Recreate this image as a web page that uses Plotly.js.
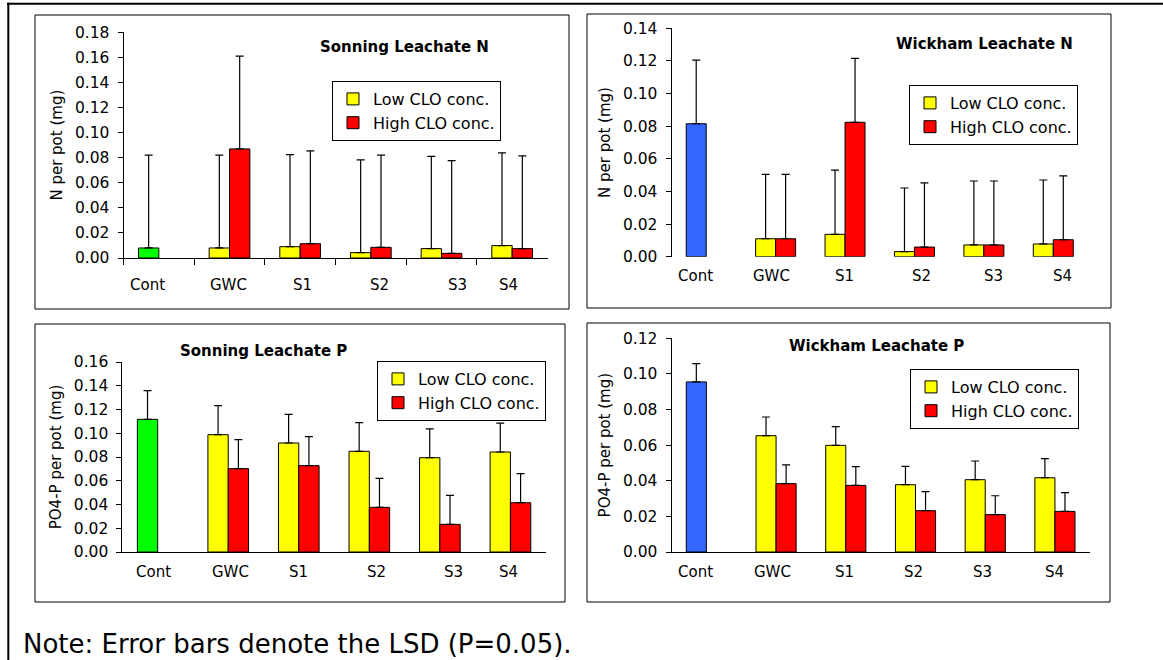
<!DOCTYPE html>
<html><head><meta charset="utf-8">
<script src="https://cdn.plot.ly/plotly-3.0.1.min.js"></script>
<style>html,body{margin:0;padding:0;background:#fff}#chart{width:1163px;height:660px}</style>
</head><body><div id="chart"></div>
<script>
// ---------- DATA ----------
const categories = ['Cont', 'GWC', 'S1', 'S2', 'S3', 'S4'];
const treatments = ['GWC', 'S1', 'S2', 'S3', 'S4'];
const seriesNames = ['Low CLO conc.', 'High CLO conc.'];

// Sonning Leachate N  (N per pot, mg)
const snCont = [0.008];
const snContErr = [0.074];
const snLow = [0.008, 0.009, 0.0043, 0.0075, 0.0099];
const snLowErr = [0.074, 0.0735, 0.074, 0.0735, 0.074];
const snHigh = [0.087, 0.0114, 0.0085, 0.0037, 0.0075];
const snHighErr = [0.074, 0.074, 0.0735, 0.074, 0.074];

// Wickham Leachate N
const wnCont = [0.0815];
const wnContErr = [0.039];
const wnLow = [0.011, 0.0137, 0.0031, 0.0072, 0.0078];
const wnLowErr = [0.0395, 0.0394, 0.039, 0.0392, 0.0392];
const wnHigh = [0.011, 0.0824, 0.0059, 0.0072, 0.0104];
const wnHighErr = [0.0395, 0.0392, 0.0393, 0.0392, 0.0391];

// Sonning Leachate P  (PO4-P per pot, mg)
const spCont = [0.1117];
const spContErr = [0.0242];
const spLow = [0.0988, 0.0918, 0.0848, 0.0794, 0.0842];
const spLowErr = [0.0244, 0.0241, 0.0241, 0.0242, 0.0244];
const spHigh = [0.0702, 0.0727, 0.0376, 0.0233, 0.0415];
const spHighErr = [0.0244, 0.0244, 0.0244, 0.0244, 0.0245];

// Wickham Leachate P
const wpCont = [0.0955];
const wpContErr = [0.0103];
const wpLow = [0.0653, 0.0599, 0.0378, 0.0406, 0.0417];
const wpLowErr = [0.0105, 0.0105, 0.0103, 0.0105, 0.0107];
const wpHigh = [0.0384, 0.0374, 0.0232, 0.021, 0.0228];
const wpHighErr = [0.0105, 0.0105, 0.0107, 0.0106, 0.0105];

const noteText = 'Note: Error bars denote the LSD (P=0.05).';

// ---------- LAYOUT HELPERS ----------
const W = 1163, H = 660;
const fx = p => p / W;
const fy = p => 1 - p / H;
const FONT = 'DejaVu Sans, Liberation Sans, Arial, sans-serif';
const GREEN = '#00ff00', BLUE = '#3366ff', YELLOW = '#ffff00', RED = '#ff0000';

const panels = [
  { title: 'Sonning Leachate N', ytitle: 'N per pot (mg)', cont: snCont, contErr: snContErr,
    low: snLow, lowErr: snLowErr, high: snHigh, highErr: snHighErr, contColor: GREEN,
    yr: [0, 0.18], xd: [123.5, 547.5], yd: [32.3, 258], xline: true, xticks: true,
    titlePos: [404, 47], legPos: [332, 81], labelY: 285, labelShift: [-11, -1, 2, 9, 16, -4],
    frame: [35, 15, 569, 309] },
  { title: 'Wickham Leachate N', ytitle: 'N per pot (mg)', cont: wnCont, contErr: wnContErr,
    low: wnLow, lowErr: wnLowErr, high: wnHigh, highErr: wnHighErr, contColor: BLUE,
    yr: [0, 0.14], xd: [671.5, 1088], yd: [28.3, 256.7], xline: false, xticks: false,
    titlePos: [984, 44], legPos: [909, 85], labelY: 276, labelShift: [-11, -4, -1, 7, 10, 9],
    frame: [587, 14, 1111, 308] },
  { title: 'Sonning Leachate P', ytitle: 'PO4-P per pot (mg)', cont: spCont, contErr: spContErr,
    low: spLow, lowErr: spLowErr, high: spHigh, highErr: spHighErr, contColor: GREEN,
    yr: [0, 0.16], xd: [122.4, 545.7], yd: [362, 552], xline: true, xticks: false,
    titlePos: [263, 351], legPos: [377, 361], labelY: 572, labelShift: [-4, 2, 0, 7, 14, -2],
    frame: [35, 324, 565, 602] },
  { title: 'Wickham Leachate P', ytitle: 'PO4-P per pot (mg)', cont: wpCont, contErr: wpContErr,
    low: wpLow, lowErr: wpLowErr, high: wpHigh, highErr: wpHighErr, contColor: BLUE,
    yr: [0, 0.12], xd: [671.5, 1089.8], yd: [338.3, 552], xline: true, xticks: false,
    titlePos: [876, 346], legPos: [910, 369], labelY: 572, labelShift: [-11, -4, -1, -2, -3, 0],
    frame: [587, 323, 1110, 602] }
];

const traces = [];
const layout = {
  width: W, height: H, autosize: false,
  margin: { l: 0, r: 0, t: 0, b: 0 },
  paper_bgcolor: '#fff', plot_bgcolor: 'rgba(0,0,0,0)',
  barmode: 'group', bargap: 0.424, bargroupgap: 0,
  font: { family: FONT, color: '#000', size: 15 },
  annotations: [], shapes: []
};

function errBar(arr) {
  return { type: 'data', symmetric: false, array: arr, arrayminus: arr.map(() => 0),
           color: '#000', thickness: 1.2, width: 4 };
}

panels.forEach((p, i) => {
  const n = i === 0 ? '' : String(i + 1);
  const xa = 'x' + n, ya = 'y' + n, leg = 'legend' + n;
  const line = { color: '#000', width: 1 };
  traces.push({ type: 'bar', x: ['Cont'], y: p.cont, xaxis: xa, yaxis: ya, offsetgroup: 'low',
    marker: { color: p.contColor, line: line }, error_y: errBar(p.contErr), showlegend: false, hoverinfo: 'y' });
  traces.push({ type: 'bar', x: treatments, y: p.low, xaxis: xa, yaxis: ya, offsetgroup: 'low',
    name: seriesNames[0], legend: leg, marker: { color: YELLOW, line: line }, error_y: errBar(p.lowErr) });
  traces.push({ type: 'bar', x: treatments, y: p.high, xaxis: xa, yaxis: ya, offsetgroup: 'high',
    name: seriesNames[1], legend: leg, marker: { color: RED, line: line }, error_y: errBar(p.highErr) });

  layout['xaxis' + n] = {
    domain: [fx(p.xd[0]), fx(p.xd[1])], anchor: ya, type: 'category',
    categoryorder: 'array', categoryarray: categories, range: [-0.5, 5.5],
    showticklabels: false, showgrid: false, zeroline: false,
    showline: p.xline, linecolor: '#000', linewidth: 1,
    ticks: p.xticks ? 'outside' : '', tickson: 'boundaries', ticklen: 6, tickcolor: '#000', tickwidth: 1,
    fixedrange: true
  };
  layout['yaxis' + n] = {
    domain: [fy(p.yd[1]), fy(p.yd[0])], anchor: xa, range: p.yr, dtick: 0.02, tickformat: '.2f',
    ticks: 'outside', ticklen: 5, tickcolor: '#000', tickwidth: 1,
    showline: true, linecolor: '#000', linewidth: 1, showgrid: false, zeroline: false,
    tickfont: { family: FONT, size: 15.5, color: '#000' }, ticklabelstandoff: 5,
    title: { text: p.ytitle, font: { family: FONT, size: 15, color: '#000' }, standoff: 8 },
    fixedrange: true
  };
  layout[leg] = {
    x: fx(p.legPos[0]), y: fy(p.legPos[1]), xanchor: 'left', yanchor: 'top',
    bgcolor: '#fff', bordercolor: '#000', borderwidth: 1, traceorder: 'normal',
    font: { family: FONT, size: 16, color: '#000' }
  };
  layout.annotations.push({
    xref: 'paper', yref: 'paper', x: fx(p.titlePos[0]), y: fy(p.titlePos[1]),
    xanchor: 'center', yanchor: 'middle', showarrow: false,
    text: '<b>' + p.title + '</b>', font: { family: FONT, size: 15, color: '#000' }
  });
  categories.forEach((c, k) => {
    layout.annotations.push({
      xref: xa, yref: 'paper', x: c, y: fy(p.labelY), xshift: p.labelShift[k],
      xanchor: 'center', yanchor: 'middle', showarrow: false,
      text: c, font: { family: FONT, size: 15, color: '#000' }
    });
  });
  const f = p.frame;
  layout.shapes.push({ type: 'rect', xref: 'paper', yref: 'paper',
    x0: fx(f[0]), x1: fx(f[2]), y0: fy(f[3]), y1: fy(f[1]),
    line: { color: '#000', width: 1 }, fillcolor: 'rgba(0,0,0,0)', layer: 'below' });
});

// outer border (top and left edges)
layout.shapes.push({ type: 'line', xref: 'paper', yref: 'paper', x0: fx(7), x1: 1, y0: fy(3.7), y1: fy(3.7),
  line: { color: '#000', width: 2 } });
layout.shapes.push({ type: 'line', xref: 'paper', yref: 'paper', x0: fx(8.3), x1: fx(8.3), y0: 0, y1: fy(2.7),
  line: { color: '#000', width: 2 } });

layout.annotations.push({
  xref: 'paper', yref: 'paper', x: fx(20.7), y: fy(644), xanchor: 'left', yanchor: 'middle',
  showarrow: false, text: noteText, font: { family: FONT, size: 26, color: '#000' }
});

Plotly.newPlot('chart', traces, layout, { staticPlot: true, displayModeBar: false });
</script>
</body></html>
